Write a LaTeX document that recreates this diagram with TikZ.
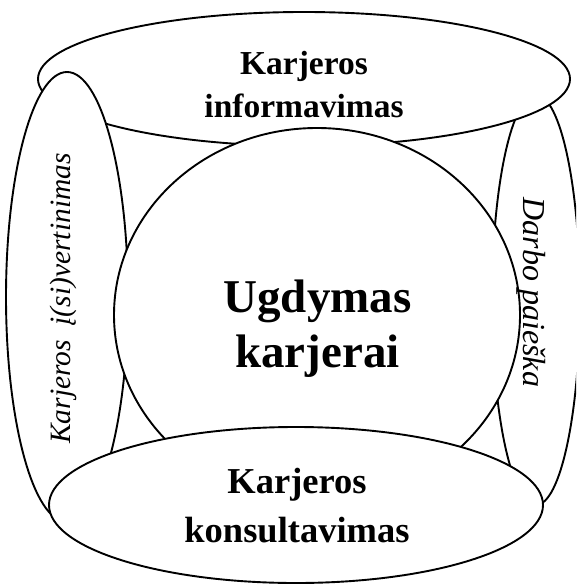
\documentclass[tikz,border=0pt]{standalone}
\usepackage{fontspec}
\setmainfont{Liberation Serif}
\begin{document}
\begin{tikzpicture}[x=1pt,y=-1pt,
  blob/.style={draw=black,fill=white,line width=1.9pt},
  lbl/.style={anchor=base,inner sep=0pt,text=black},
  toplbl/.style={lbl,font=\bfseries\fontsize{33.5}{40}\selectfont},
  midlbl/.style={lbl,font=\bfseries\fontsize{47}{56}\selectfont},
  botlbl/.style={lbl,font=\bfseries\fontsize{36.5}{44}\selectfont},
  sidelbl/.style={lbl,font=\itshape\fontsize{29.5}{36}\selectfont},
  rightlbl/.style={lbl,font=\itshape\fontsize{32}{38}\selectfont}]
\useasboundingbox (0,0) rectangle (576,585);
\clip (0,0) rectangle (576,585);
% shapes, back to front
\draw[blob] (536,300) ellipse [x radius=44pt, y radius=205pt];
\draw[blob] (304,79) ellipse [x radius=266pt, y radius=67pt];
\draw[blob] (67,297) ellipse [x radius=61pt, y radius=225pt];
\draw[blob] (317,315) ellipse [x radius=203pt, y radius=187pt];
\draw[blob] (296,505) ellipse [x radius=247pt, y radius=78pt];
% labels
\node[toplbl] (t1) at (304,75) {Karjeros};
\node[toplbl] (t2) at (304,118) {informavimas};
\node[midlbl] (c1) at (317.5,312) {Ugdymas};
\node[midlbl] (c2) at (317.5,367) {karjerai};
\node[botlbl] (b1) at (297,493) {Karjeros};
\node[botlbl] (b2) at (297,542) {konsultavimas};
\node[sidelbl,rotate=90] (l1) at (70,298.5) {Karjeros\ \ į(si)vertinimas};
\node[rightlbl,rotate=-90] (r1) at (523.5,292.5) {Darbo paieška};
\end{tikzpicture}
\end{document}
